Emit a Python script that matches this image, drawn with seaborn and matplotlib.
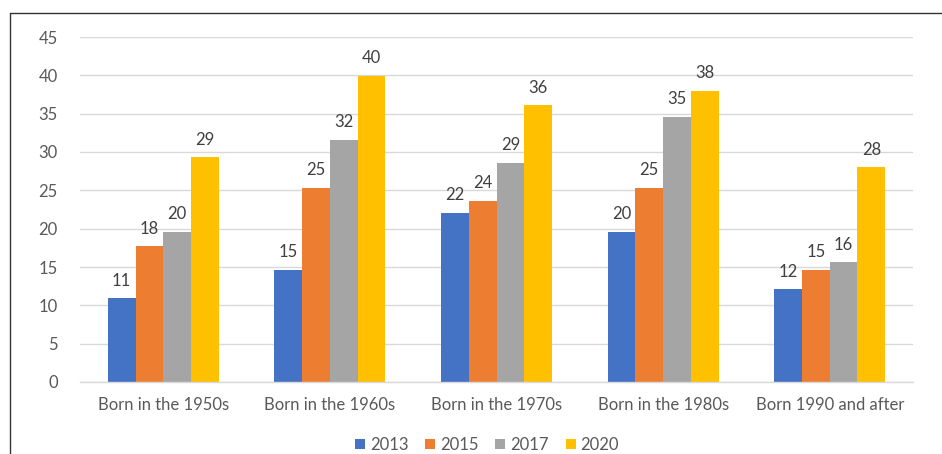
import matplotlib
matplotlib.use("Agg")
import matplotlib.pyplot as plt
from matplotlib.lines import Line2D
from matplotlib.patches import Patch
import seaborn as sns
import pandas as pd

# Cohorts and survey years
cohorts = ["Born in the 1950s", "Born in the 1960s", "Born in the 1970s",
           "Born in the 1980s", "Born 1990 and after"]
years = ["2013", "2015", "2017", "2020"]

# Values per survey year, one entry per cohort
v2013 = [10.9, 14.6, 22.1, 19.6, 12.1]
v2015 = [17.7, 25.3, 23.6, 25.3, 14.6]
v2017 = [19.6, 31.6, 28.6, 34.6, 15.6]
v2020 = [29.3, 39.9, 36.1, 38.0, 28.0]

colors = ["#4472C4", "#ED7D31", "#A5A5A5", "#FFC000"]
yticks = [0, 5, 10, 15, 20, 25, 30, 35, 40, 45]

rows = []
for yr, vals in zip(years, [v2013, v2015, v2017, v2020]):
    for c, v in zip(cohorts, vals):
        rows.append({"cohort": c, "year": yr, "value": v})
df = pd.DataFrame(rows)

sns.set_theme(style="white")
plt.rcParams["font.family"] = ["Lato", "DejaVu Sans"]

fig = plt.figure(figsize=(9.42, 4.54), dpi=100)
ax = fig.add_axes([80 / 942, 1 - 382 / 454, 833 / 942, 345 / 454])

sns.barplot(data=df, x="cohort", y="value", hue="year", order=cohorts,
            hue_order=years, palette=colors, width=0.667, saturation=1,
            errorbar=None, ax=ax, legend=False, linewidth=0)

for cont in ax.containers:
    ax.bar_label(cont, fmt="%.0f", padding=7, fontsize=12, color="#404040")

ax.set_ylim(0, 45)
ax.set_xlim(-0.5, len(cohorts) - 0.5)
ax.set_yticks(yticks)
ax.set_yticklabels([str(t) for t in yticks])
ax.yaxis.grid(True, color="#D9D9D9", linewidth=1)
ax.set_axisbelow(True)
for s in ["top", "right", "left"]:
    ax.spines[s].set_visible(False)
ax.spines["bottom"].set_color("#D9D9D9")
ax.spines["bottom"].set_linewidth(1)
ax.tick_params(axis="y", length=0, pad=16, labelsize=12, labelcolor="#595959")
ax.tick_params(axis="x", length=0, pad=11, labelsize=12, labelcolor="#595959")
ax.set_xlabel("")
ax.set_ylabel("")

handles = [Patch(facecolor=c, edgecolor="none") for c in colors]
fig.legend(handles, years, loc="center", bbox_to_anchor=(487 / 942, 1 - 445 / 454),
           ncol=4, frameon=False, handlelength=0.6, handleheight=0.6,
           handletextpad=0.3, columnspacing=1.0, fontsize=12, labelcolor="#595959")

# Outer frame (left and top edges)
fig.add_artist(Line2D([10 / 942, 10 / 942], [0, 1 - 13 / 454],
                      transform=fig.transFigure, color="#333333", linewidth=1))
fig.add_artist(Line2D([10 / 942, 1], [1 - 13 / 454, 1 - 13 / 454],
                      transform=fig.transFigure, color="#333333", linewidth=1))

fig.savefig("out.png", dpi=100)
